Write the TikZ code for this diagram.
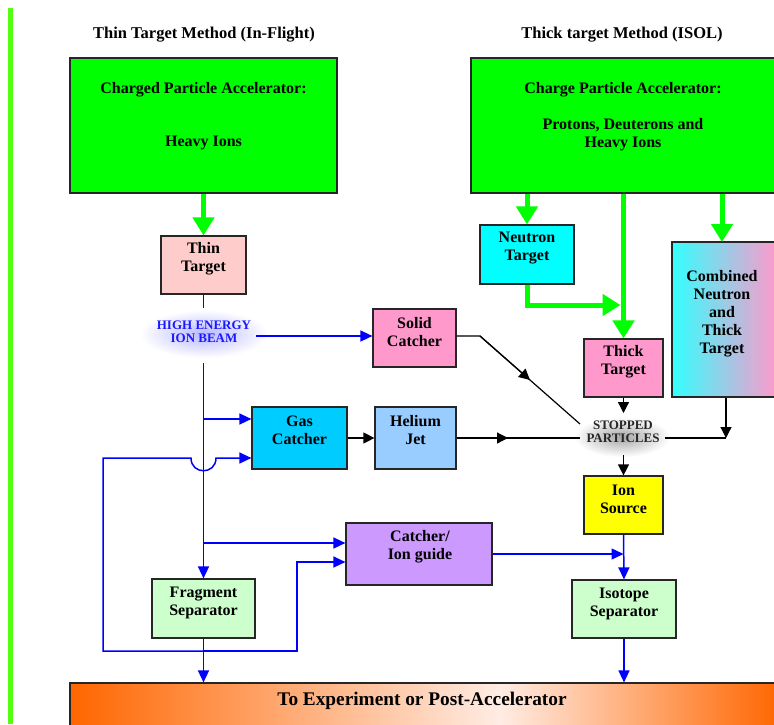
\documentclass[tikz,border=0pt]{standalone}
\usepackage{fontspec}
\setmainfont{Liberation Serif}
\usetikzlibrary{arrows.meta,calc}
\definecolor{accgreen}{RGB}{0,255,0}
\definecolor{leftgreen}{RGB}{85,255,17}
\definecolor{thinpink}{RGB}{255,204,204}
\definecolor{hotpink}{RGB}{255,153,204}
\definecolor{gascyan}{RGB}{0,204,255}
\definecolor{heblue}{RGB}{153,204,255}
\definecolor{neucyan}{RGB}{0,255,255}
\definecolor{combcyan}{RGB}{51,255,255}
\definecolor{lilac}{RGB}{204,153,255}
\definecolor{ionyellow}{RGB}{255,255,0}
\definecolor{sepgreen}{RGB}{204,255,204}
\definecolor{beamblue}{RGB}{0,0,255}
\definecolor{barorange}{RGB}{255,102,0}
\definecolor{barlight}{RGB}{255,236,228}
\begin{document}
\begin{tikzpicture}[x=1pt,y=-1pt,
  box/.style={draw=black!85, line width=1.2pt, inner sep=0pt},
  lbl/.style={font=\fontsize{16}{18}\selectfont\bfseries, align=center, inner sep=0pt},
  ttl/.style={font=\fontsize{16.5}{18}\selectfont\bfseries, inner sep=0pt},
  glowtxt/.style={font=\fontsize{13}{13}\selectfont\bfseries, align=center, inner sep=0pt},
  garrow/.style={draw=accgreen, line width=5pt, -{Triangle[width=21pt,length=18pt]}},
  barrow/.style={draw=beamblue, line width=1.5pt, -{Triangle[width=11pt,length=12pt]}},
  bline/.style={draw=beamblue, line width=1.5pt},
  karrow/.style={draw=black, line width=1.2pt, -{Triangle[width=11pt,length=11pt]}},
  kline/.style={draw=black, line width=1.2pt}]
\useasboundingbox (0,0) rectangle (774,724);
\fill[white] (0,0) rectangle (774,724);
% left green bar
\fill[leftgreen] (8.3,8) rectangle (13.3,724);

% titles
\node[ttl] (t1) at (204,35) {Thin Target Method (In-Flight)};
\node[ttl] (t2) at (622,35) {Thick target Method (ISOL)};

% accelerators
\node[box, fill=accgreen, minimum width=267pt, minimum height=135pt] (accL) at (203.5,125.5) {};
\node[lbl] (accLa) at (203.5,90) {Charged Particle Accelerator:};
\node[lbl] (accLb) at (203.5,143) {Heavy Ions};
\node[box, fill=accgreen, minimum width=305pt, minimum height=135pt] (accR) at (623.5,125.5) {};
\node[lbl] (accRa) at (623,90) {Charge Particle Accelerator:};
\node[lbl, anchor=center] (accRb) at (623,134.5) {Protons, Deuterons and\\Heavy Ions};

% boxes
\node[box, fill=thinpink, minimum width=85pt, minimum height=58pt] (tt) at (203.5,265) {};
\node[lbl] (ttl) at (203.5,259) {Thin\\Target};
\node[box, fill=hotpink, minimum width=83pt, minimum height=58pt] (sc) at (414.5,338) {};
\node[lbl] (scl) at (414.5,332) {Solid\\Catcher};
\node[box, fill=gascyan, minimum width=95pt, minimum height=62pt] (gc) at (299.5,438) {};
\node[lbl] (gcl) at (299.5,430) {Gas\\Catcher};
\node[box, fill=heblue, minimum width=81pt, minimum height=62pt] (hj) at (415.5,438) {};
\node[lbl] (hjl) at (415.5,430.5) {Helium\\Jet};
\node[box, fill=neucyan, minimum width=94pt, minimum height=59pt] (nt) at (527,254.5) {};
\node[lbl] (ntl) at (527,248.5) {Neutron\\Target};
\shade[left color=combcyan, right color=hotpink] (672,242) rectangle (776,397);
\node[box, minimum width=104pt, minimum height=155pt] (cb) at (724,319.5) {};
\node[lbl] (cbl) at (722,314) {Combined\\Neutron\\and\\Thick\\Target};
\node[box, fill=hotpink, minimum width=79pt, minimum height=58pt] (tk) at (623.5,368) {};
\node[lbl] (tkl) at (623.5,361.5) {Thick\\Target};
\node[box, fill=ionyellow, minimum width=79pt, minimum height=58pt] (ios) at (623.5,505) {};
\node[lbl] (iosl) at (623.5,499) {Ion\\Source};
\node[box, fill=lilac, minimum width=146pt, minimum height=62pt] (ci) at (419,554) {};
\node[lbl] (cil) at (420,547) {Catcher/\\Ion guide};
\node[box, fill=sepgreen, minimum width=103pt, minimum height=59pt] (fs) at (203.5,608.5) {};
\node[lbl] (fsl) at (203.5,602.5) {Fragment\\Separator};
\node[box, fill=sepgreen, minimum width=104pt, minimum height=58pt] (isp) at (624,609) {};
\node[lbl] (ispl) at (624,603.5) {Isotope\\Separator};

% bottom bar
\shade[left color=barorange, right color=barlight] (70,683) rectangle (500,730);
\shade[left color=barlight, right color=barorange] (500,683) rectangle (780,730);
\node[box, minimum width=710pt, minimum height=47pt] (bar) at (425,706.5) {};
\node[font=\fontsize{19.3}{21}\selectfont\bfseries, inner sep=0pt] (barl) at (422,701) {To Experiment or Post-Accelerator};

% glows
\shade[inner color=blue!28, outer color=white] (204,334) ellipse[x radius=64pt, y radius=24pt];
\node[glowtxt, text=beamblue!90!white] (heb) at (204,332) {HIGH ENERGY\\ION BEAM};
\shade[inner color=black!35, outer color=white] (622,437) ellipse[x radius=48pt, y radius=20pt];
\node[glowtxt, text=black!85] (spt) at (623,432) {STOPPED\\PARTICLES};

% green arrows
\draw[garrow] (accL.south) -- (tt.north);
\draw[garrow] (accR.south -| nt.north) -- (nt.north);
\draw[garrow] (accR.south -| tk.north) -- (tk.north);
\coordinate (cbx) at (722,242);
\draw[garrow] (accR.south -| cbx) -- (cbx);
\coordinate (nj) at (527,305);
\coordinate (nend) at (620.5,305);
\draw[garrow] (nt.south) -- (nj) -- (nend);

% blue beam lines
\coordinate (beamtop) at (203.5,308);
\coordinate (beambot) at (203.5,363);
\draw[bline] (tt.south) -- (beamtop);
\draw[barrow] (beambot) -- (fs.north);
\coordinate (he) at (256,336);
\draw[barrow] (he) -- (he -| sc.west);
\coordinate (b1) at (203.5,419);
\draw[barrow] (b1) -- (b1 -| gc.west);
\coordinate (b2) at (203.5,543);
\draw[barrow] (b2) -- (b2 -| ci.west);
\draw[barrow] (fs.south) -- (fs.south |- bar.north);
\coordinate (j) at (203.5,651);
\coordinate (lp1) at (103,651);
\coordinate (lp2) at (103,458);
\coordinate (hopL) at (191,458);
\coordinate (hopR) at (216,458);
\draw[barrow] (j) -- (lp1) -- (lp2) -- (hopL) .. controls (191,475) and (216,475) .. (hopR) -- (hopR -| gc.west);
\coordinate (rp1) at (297,651);
\coordinate (rp2) at (297,562);
\draw[barrow] (j) -- (rp1) -- (rp2) -- (rp2 -| ci.west);
\draw[barrow] (ios.south) -- (isp.north);
\draw[barrow] (ci.east) -- (ci.east -| ios.south);
\draw[barrow] (isp.south) -- (isp.south |- bar.north);

% black connectors
\draw[karrow] (gc.east) -- (hj.west);
\coordinate (s1) at (480,336);
\coordinate (s2) at (530,380);
\coordinate (s3) at (580,424);
\draw[kline] (sc.east |- s1) -- (s1) -- (s3);
\draw[karrow] (s1) -- (s2);
\coordinate (h1) at (508,438);
\coordinate (h2) at (580,438);
\draw[kline] (hj.east) -- (h2);
\draw[karrow] (hj.east) -- (h1);
\coordinate (sptop) at (623.5,413);
\coordinate (spbot) at (623.5,455);
\draw[karrow] (tk.south) -- (sptop);
\draw[karrow] (spbot) -- (ios.north);
\coordinate (c0) at (665,438);
\coordinate (c1) at (726,438);
\draw[kline] (c0) -- (c1);
\draw[karrow] (cb.south -| c1) -- (c1);
\end{tikzpicture}
\end{document}
